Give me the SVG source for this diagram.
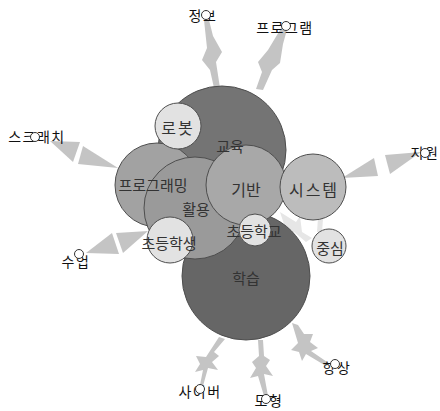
<svg xmlns="http://www.w3.org/2000/svg" width="440" height="411" viewBox="0 0 440 411">
  <style>
    .node circle { stroke: #4e4e4e; stroke-width: 1; }
    .label { font-family: "Noto Sans CJK KR", "DejaVu Sans", sans-serif; text-anchor: middle; dominant-baseline: central; }
    .in { fill: #333333; font-size: 15px; }
    .out { fill: #111111; font-size: 14px; letter-spacing: 1.5px; }
    .edge { fill: #c4c4c4; stroke: none; }
    .faint { fill: #e6e6e6; stroke: none; }
    .port { fill: #ffffff; stroke: #333333; stroke-width: 1; }
  </style>

  <!-- connectors -->
  <g id="connectors">
    <!-- 정보 -> 교육 -->
    <path class="edge" d="M204,20 L209,20 L213,36 L222,52 L216,62 L220,88 L214,88 L210,70 L202,60 L207,48 Z"/>
    <!-- 프로그램 -> 교육 -->
    <path class="edge" d="M283,25 L288,26 L283,44 L280,63 L272,70 L263,90 L256,89 L262,72 L258,62 L268,50 Z"/>
    <!-- 스크래치 -> 프로그래밍 -->
    <polygon class="edge" points="50,141 80,142 73,162"/>
    <polygon class="edge" points="83,146 78,164 118,168"/>
    <!-- 지원 -> 시스템 -->
    <polygon class="edge" points="421,152 385,155 390,174"/>
    <polygon class="edge" points="374,158 378,176 342,178"/>
    <!-- 수업 -> 초등학생 -->
    <polygon class="edge" points="86,253 112,233 119,254"/>
    <polygon class="edge" points="116,233 123,253 148,231"/>
    <!-- 학습 -> 사이버 -->
    <path class="edge" d="M219,337 L225,339 L214,352 L219,356 L212,362 L218,370 L208,368 L203,386 L200,385 L203,370 L195,372 L200,364 L196,356 L206,357 Z"/>
    <!-- 학습 -> 모형 -->
    <path class="edge" d="M258,340 L263,340 L264,356 L270,360 L266,366 L273,376 L264,374 L268,396 L264,396 L258,376 L250,378 L256,368 L252,362 L259,356 Z"/>
    <!-- 학습 -> 향상 -->
    <path class="edge" d="M292,323 L298,325 L304,334 L313,334 L310,342 L318,348 L311,351 L330,364 L326,366 L306,354 L302,361 L299,352 L291,350 L298,343 Z"/>
    <!-- links among 시스템, 학습 and 중심 -->
    <path class="faint" d="M280,212 L296,222 L300,216 L302,232 L312,238 L306,242 L294,232 L288,236 Z"/>
    <path class="faint" d="M318,218 L323,219 L322,232 L317,232 Z"/>
  </g>

  <!-- circles, back to front -->
  <g id="n-haksup" class="node"><circle cx="246" cy="276" r="64" fill="#666666"/></g>
  <g id="n-gyoyuk" class="node"><circle cx="222" cy="150" r="64" fill="#747474"/></g>
  <g id="n-programming" class="node"><circle cx="157" cy="185" r="42" fill="#a2a2a2"/></g>
  <g id="n-hwalyong" class="node"><circle cx="195" cy="208" r="51" fill="#9a9a9a"/></g>
  <g id="n-giban" class="node"><circle cx="246" cy="185" r="40" fill="#a8a8a8"/></g>
  <g id="n-system" class="node"><circle cx="313" cy="187" r="33" fill="#bcbcbc"/></g>
  <g id="n-robot" class="node"><circle cx="178" cy="126" r="23" fill="#e2e2e2"/></g>
  <g id="n-student" class="node"><circle cx="170" cy="240" r="23" fill="#e2e2e2"/></g>
  <g id="n-school" class="node"><circle cx="255" cy="230" r="16" fill="#e2e2e2"/></g>
  <g id="n-center" class="node"><circle cx="329" cy="246" r="17" fill="#e2e2e2"/></g>

  <!-- circle labels sit above every circle -->
  <g id="node-labels">
    <text class="label in" x="246" y="277">학습</text>
    <text class="label in" x="230" y="145">교육</text>
    <text class="label in" x="153" y="184">프로그래밍</text>
    <text class="label in" x="196" y="208">활용</text>
    <text class="label in" x="246" y="189" style="font-size:16px">기반</text>
    <text class="label in" x="314" y="189" style="font-size:16px;letter-spacing:2px">시스템</text>
    <text class="label in" x="178" y="127" style="font-size:16px;letter-spacing:2px">로봇</text>
    <text class="label in" x="169" y="242">초등학생</text>
    <text class="label in" x="254" y="230">초등학교</text>
    <text class="label in" x="330" y="247">중심</text>
  </g>

  <!-- outer terms -->
  <g id="t-jeongbo"><text class="label out" x="203" y="15">정보</text></g>
  <g id="t-program"><text class="label out" x="285" y="27">프로그램</text></g>
  <g id="t-scratch"><text class="label out" x="37" y="136">스크래치</text></g>
  <g id="t-jiwon"><text class="label out" x="425" y="152">지원</text></g>
  <g id="t-sueop"><text class="label out" x="76" y="261">수업</text></g>
  <g id="t-cyber"><text class="label out" x="200" y="391">사이버</text></g>
  <g id="t-model"><text class="label out" x="269" y="400">모형</text></g>
  <g id="t-hyangsang"><text class="label out" x="337" y="367">향상</text></g>

  <!-- connector end ports, drawn over the terms -->
  <g id="ports">
    <circle class="port" cx="206" cy="15" r="4.5"/>
    <circle class="port" cx="286" cy="26" r="4.5"/>
    <circle class="port" cx="35" cy="137" r="4.5"/>
    <circle class="port" cx="425" cy="153" r="4.5"/>
    <circle class="port" cx="79" cy="254" r="4.5"/>
    <circle class="port" cx="200" cy="389" r="4.5"/>
    <circle class="port" cx="266" cy="399" r="4.5"/>
    <circle class="port" cx="335" cy="364" r="4.5"/>
  </g>
</svg>
